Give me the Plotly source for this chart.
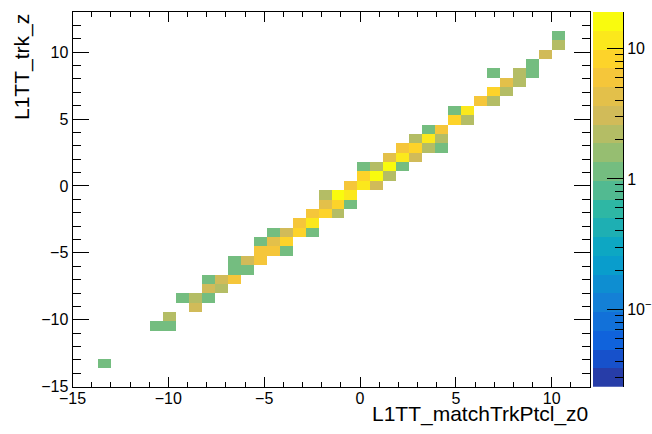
import numpy as np
import plotly.graph_objects as go

# Histogram binning (TH2-style): 40 x 40 bins
NBINS_X, X_LO, X_HI = 40, -15.0, 12.0
NBINS_Y, Y_LO, Y_HI = 40, -15.0, 13.0

# Filled cells: x-bin index, y-bin index, entries
cell_ix = [2, 6, 7, 7, 9, 8, 9, 10, 10, 11, 10, 11, 12, 12, 13, 12, 13, 14,
           14, 15, 16, 14, 15, 16, 15, 16, 17, 18, 17, 18, 18, 19, 20, 19, 20, 21,
           19, 20, 21, 21, 22, 23, 22, 23, 24, 22, 23, 24, 25, 24, 25, 26,
           25, 26, 27, 28, 26, 27, 28, 27, 28, 29, 30, 29, 30, 31, 32, 32, 33,
           33, 34, 32, 34, 35, 35, 36, 37, 37]
cell_iy = [2, 6, 6, 7, 8, 9, 9, 9, 10, 10, 11, 11, 11, 12, 12, 13, 13, 13,
           14, 14, 14, 15, 15, 15, 16, 16, 16, 16, 17, 17, 18, 18, 18, 19, 19, 19,
           20, 20, 20, 21, 21, 21, 22, 22, 22, 23, 23, 23, 23, 24, 24, 24,
           25, 25, 25, 25, 26, 26, 26, 27, 27, 28, 28, 29, 29, 30, 30, 31, 31,
           32, 32, 33, 33, 33, 34, 35, 36, 37]
cell_count = [1, 1, 1, 2, 3, 1, 2, 1, 3, 2, 1, 3, 6, 1, 1, 1, 3, 6,
              6, 7, 1, 1, 4, 9, 1, 3, 8, 1, 6, 12, 7, 9, 2, 4, 9, 1,
              2, 19, 12, 7, 11, 3, 8, 16, 2, 1, 2, 15, 1, 4, 12, 3,
              7, 8, 2, 1, 2, 12, 2, 1, 6, 8, 2, 1, 12, 6, 2, 9, 2,
              4, 2, 1, 2, 1, 1, 3, 2, 1]

# Log colour axis range and number of contour levels
Z_MIN, Z_MAX = 0.0256, 19.0
N_CONTOURS = 20

# ROOT "kBird" palette stops
bird_stops = [0.0, 0.125, 0.25, 0.375, 0.5, 0.625, 0.75, 0.875, 1.0]
bird_r = [0.2082, 0.0592, 0.0780, 0.0232, 0.1802, 0.5301, 0.8186, 0.9956, 0.9764]
bird_g = [0.1664, 0.3599, 0.5041, 0.6419, 0.7178, 0.7492, 0.7328, 0.7862, 0.9832]
bird_b = [0.5293, 0.8684, 0.8385, 0.7914, 0.6425, 0.4662, 0.3499, 0.1968, 0.0539]


def bird(pos):
    r = np.interp(pos, bird_stops, bird_r)
    g = np.interp(pos, bird_stops, bird_g)
    b = np.interp(pos, bird_stops, bird_b)
    return "rgb(%d,%d,%d)" % (round(r * 255), round(g * 255), round(b * 255))


# Discrete colour scale: one flat band per contour level
ncol = 255
colorscale = []
for k in range(N_CONTOURS):
    idx = int((k + 0.99) * ncol / N_CONTOURS)
    c = bird(idx / (ncol - 1))
    colorscale.append([k / N_CONTOURS, c])
    colorscale.append([(k + 1) / N_CONTOURS, c])

lz_min, lz_max = np.log10(Z_MIN), np.log10(Z_MAX)

x_edges = np.linspace(X_LO, X_HI, NBINS_X + 1)
y_edges = np.linspace(Y_LO, Y_HI, NBINS_Y + 1)
z = np.full((NBINS_Y, NBINS_X), np.nan)
for ix, iy, n in zip(cell_ix, cell_iy, cell_count):
    z[iy, ix] = np.log10(n)

W, H = 652, 434
fx0, fx1, fy0, fy1 = 72.5, 590.0, 12.0, 386.7   # frame in px
px = lambda v: v / W
py = lambda v: 1 - v / H

fig = go.Figure()
fig.add_trace(go.Heatmap(
    x=x_edges, y=y_edges, z=z, colorscale=colorscale,
    zmin=lz_min, zmax=lz_max, showscale=False, hoverongaps=False,
    xaxis="x", yaxis="y"))

# Palette strip drawn on its own axis (log10 units)
lev = np.linspace(lz_min, lz_max, N_CONTOURS + 1)
fig.add_trace(go.Heatmap(
    x=[0, 1], y=lev, z=[[0.5 * (lev[k] + lev[k + 1])] for k in range(N_CONTOURS)],
    colorscale=colorscale, zmin=lz_min, zmax=lz_max, showscale=False,
    xaxis="x2", yaxis="y2", hoverinfo="skip"))

font = "Liberation Sans, Arial, Helvetica, sans-serif"
tickfont = dict(family=font, size=16, color="black")

common = dict(showgrid=False, zeroline=False, showline=True, linecolor="black",
              linewidth=1, mirror="allticks", ticks="inside", tickcolor="black",
              tickwidth=1, tickfont=tickfont, automargin=False)

minor_vals = []
for dec in (-2, -1, 0, 1):
    for m in range(2, 10):
        v = np.log10(m) + dec
        if lz_min < v < lz_max:
            minor_vals.append(v)

fig.update_layout(
    width=W, height=H, margin=dict(l=0, r=0, t=0, b=0, autoexpand=False),
    paper_bgcolor="white", plot_bgcolor="white", showlegend=False,
    xaxis=dict(domain=[px(fx0), px(fx1)], range=[X_LO, X_HI], tickmode="linear",
               tick0=0, dtick=5, ticklen=10, ticklabelstandoff=-3,
               minor=dict(dtick=1, ticklen=5, ticks="inside", tickcolor="black"),
               anchor="y", **common),
    yaxis=dict(domain=[py(fy1), py(fy0)], range=[Y_LO, Y_HI], tickmode="linear",
               tick0=0, dtick=5, ticklen=16,
               minor=dict(dtick=1, ticklen=8, ticks="inside", tickcolor="black"),
               anchor="x", **common),
    xaxis2=dict(domain=[px(593), px(623)], range=[0, 1], showticklabels=False,
                showgrid=False, zeroline=False, showline=False, ticks="",
                anchor="y2", automargin=False),
    yaxis2=dict(domain=[py(fy1), py(fy0)], range=[lz_min, lz_max], side="right",
                anchor="x2", tickmode="array", tickvals=[-1, 0, 1],
                ticktext=["10<sup>−1</sup>", "1", "10"], ticks="inside",
                ticklen=16, tickcolor="black", tickfont=tickfont,
                showline=True, linecolor="black", linewidth=1,
                showgrid=False, zeroline=False, automargin=False,
                minor=dict(tickmode="array", tickvals=minor_vals, ticklen=8,
                           ticks="inside", tickcolor="black")),
    annotations=[
        dict(text="L1TT_matchTrkPtcl_z0", xref="paper", yref="paper",
             x=px(fx1), y=py(414), xanchor="right", yanchor="middle",
             showarrow=False, font=dict(family=font, size=21, color="black")),
        dict(text="L1TT_trk_z", xref="paper", yref="paper", textangle=-90,
             x=px(22), y=py(fy0), xanchor="center", yanchor="top",
             showarrow=False, font=dict(family=font, size=21, color="black")),
    ],
)

fig.write_html("out.html")
